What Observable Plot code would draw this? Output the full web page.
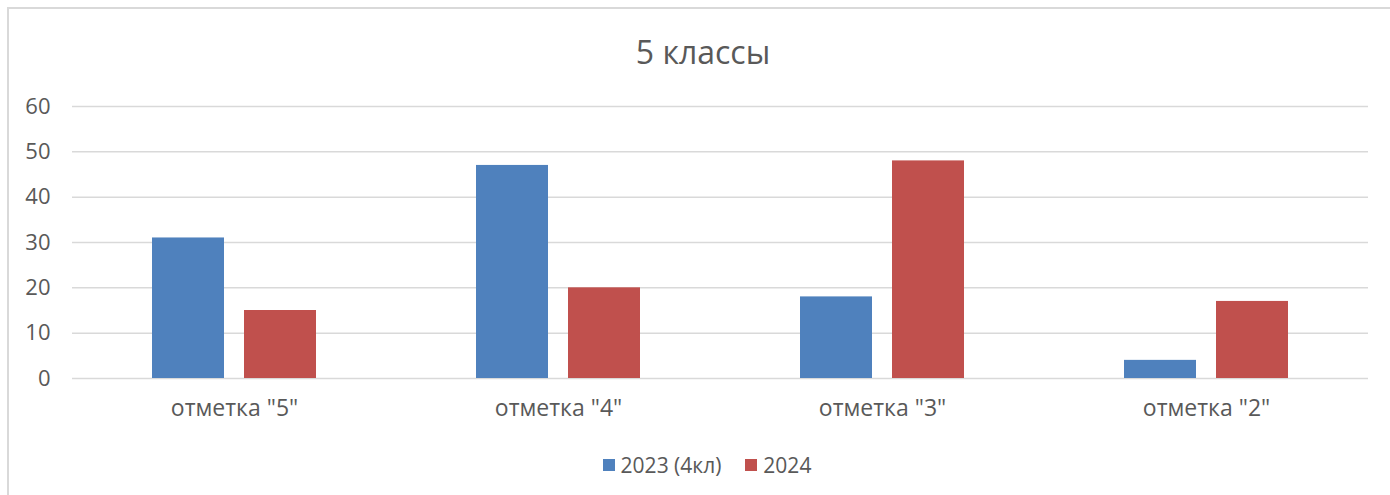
<!DOCTYPE html>
<html>
<head>
<meta charset="utf-8">
<script src="https://cdn.jsdelivr.net/npm/d3@7"></script>
<script src="https://cdn.jsdelivr.net/npm/@observablehq/plot@0.6"></script>
<style>
  html, body { margin: 0; padding: 0; background: #fff; overflow: hidden; }
  body { width: 1390px; height: 495px; position: relative; font-family: "Open Sans", "Noto Sans", sans-serif; color: #595959; }
  #frame { position: absolute; left: 7px; top: 7px; width: 1400px; height: 520px; border-left: 2px solid #d9d9d9; border-top: 2px solid #d9d9d9; box-sizing: border-box; }
  #title { position: absolute; top: 29px; left: 0; width: 1406px; text-align: center; font-size: 32px; line-height: 46px; color: #595959; }
  #chart { position: absolute; left: 0; top: 90px; }
  #legend { position: absolute; top: 448px; left: 0; width: 1414px; text-align: center; font-size: 21px; line-height: 30px; color: #595959; }
  .item { display: inline-flex; align-items: center; margin: 0 12px; }
  .sw { display: inline-block; width: 12px; height: 12px; margin-right: 6px; }
</style>
</head>
<body>
<div id="frame"></div>
<div id="title">5 классы</div>
<div id="chart"></div>
<div id="legend"></div>
<script>
const categories = ['отметка "5"', 'отметка "4"', 'отметка "3"', 'отметка "2"'];
const seriesNames = ["2023 (4кл)", "2024"];
const values2023 = [31, 47, 18, 4];
const values2024 = [15, 20, 48, 17];
const yTicks = [0, 10, 20, 30, 40, 50, 60];
const colors = ["#4f81bd", "#c0504d"];

const data = [];
categories.forEach((c, i) => {
  data.push({category: c, series: seriesNames[0], value: values2023[i]});
  data.push({category: c, series: seriesNames[1], value: values2024[i]});
});

const chart = Plot.plot({
  width: 1390,
  height: 340,
  marginLeft: 72,
  marginRight: 22,
  marginTop: 16,
  marginBottom: 52,
  style: {fontFamily: '"Open Sans", "Noto Sans", sans-serif', fontSize: "22px", background: "transparent", color: "#595959"},
  fx: {domain: categories, padding: 0},
  x: {domain: seriesNames, paddingInner: 0.215, paddingOuter: 0.85, axis: null},
  y: {domain: [0, 60], axis: null},
  color: {domain: seriesNames, range: colors},
  marks: [
    Plot.gridY(yTicks, {stroke: "#d9d9d9", strokeOpacity: 1, strokeWidth: 1.5}),
    Plot.barY(data, {fx: "category", x: "series", y: "value", fill: "series"}),
    Plot.axisY(yTicks, {tickSize: 0, tickPadding: 22, fontSize: 22, color: "#595959", label: null}),
    Plot.axisFx({anchor: "bottom", tickSize: 0, tickPadding: 21, fontSize: 23, color: "#595959", label: null})
  ]
});
document.getElementById("chart").appendChild(chart);

const legend = document.getElementById("legend");
seriesNames.forEach((s, i) => {
  const item = document.createElement("span");
  item.className = "item";
  const sw = document.createElement("span");
  sw.className = "sw";
  sw.style.background = colors[i];
  item.appendChild(sw);
  item.appendChild(document.createTextNode(s));
  legend.appendChild(item);
});
</script>
</body>
</html>
